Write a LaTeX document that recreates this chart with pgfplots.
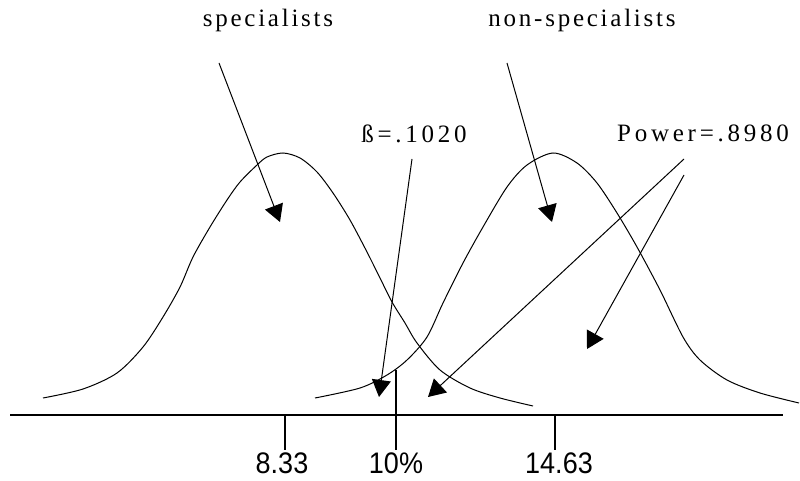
\documentclass[border=0pt]{standalone}
\usepackage{pgfplots}
\pgfplotsset{compat=1.18}
\usepackage{fontspec}
\setmainfont{Liberation Serif}
\newfontfamily\spacedA[LetterSpace=11]{Liberation Serif}
\newfontfamily\spacedB[LetterSpace=15]{Liberation Serif}
\newfontfamily\sansf{Liberation Sans}
\usetikzlibrary{arrows.meta}
\begin{document}
\begin{tikzpicture}
\begin{axis}[
  width=800pt, height=480pt, scale only axis,
  xmin=0, xmax=800, ymin=0, ymax=480,
  axis lines=none, clip=false,
]
% left curve (specialists)
\addplot[black, line width=1pt, smooth, tension=0.5] coordinates {
 (43,82) (83,91) (117,107) (143,133) (163,163) (180,193) (193,223) (210,253)
 (227,280) (240,298) (257,315) (267,323) (283,327) (300,322) (317,308)
 (333,287) (350,260) (367,228) (380,202) (392,178) (405,157) (417,137)
 (440,110) (470,92) (500,82) (533,74)
};
% right curve (non-specialists)
\addplot[black, line width=1pt, smooth, tension=0.5] coordinates {
 (315,82) (360,92) (387,105) (407,120) (427,143) (443,177) (463,217)
 (483,253) (507,293) (527,315) (553,327) (577,317) (597,297) (617,267)
 (637,233) (660,190) (683,143) (700,120) (727,100) (760,87) (799,77)
};
% axis line and ticks
\addplot[black, line width=1.6pt] coordinates {(10,65) (783,65)};
\addplot[black, line width=1.2pt] coordinates {(285,65) (285,30)};
\addplot[black, line width=1.2pt] coordinates {(555,65) (555,30)};
\addplot[black, line width=1.2pt] coordinates {(396,110) (396,30)};
% arrows
\addplot[black, line width=1pt, -{Triangle[length=17pt,width=19pt]}] coordinates {(219,417) (280,258)};
\addplot[black, line width=1pt, -{Triangle[length=17pt,width=19pt]}] coordinates {(507,417) (552,258)};
\addplot[black, line width=1pt, -{Triangle[length=17pt,width=19pt]}] coordinates {(412,321) (379,83)};
\addplot[black, line width=1pt, -{Triangle[length=17pt,width=19pt]}] coordinates {(684,321) (428,83)};
\addplot[black, line width=1pt, -{Triangle[length=17pt,width=19pt]}] coordinates {(684,305) (587,131)};
% labels
\node[anchor=base, inner sep=0pt, font=\spacedA\fontsize{25}{28}\selectfont] at (axis cs:268,453) {specialists};
\node[anchor=base, inner sep=0pt, font=\spacedA\fontsize{25}{28}\selectfont] at (axis cs:582,453) {non-specialists};
\node[anchor=base, inner sep=0pt, font=\spacedB\fontsize{25}{28}\selectfont] at (axis cs:414,337) {ß=.1020};
\node[anchor=base, inner sep=0pt, font=\spacedB\fontsize{25}{28}\selectfont] at (axis cs:703,338) {Power=.8980};
\node[anchor=base, inner sep=0pt, yscale=1.1, font=\sansf\fontsize{27}{30}\selectfont] at (axis cs:282,7) {8.33};
\node[anchor=base, inner sep=0pt, yscale=1.1, font=\sansf\fontsize{27}{30}\selectfont] at (axis cs:396,7) {10\%};
\node[anchor=base, inner sep=0pt, yscale=1.1, font=\sansf\fontsize{27}{30}\selectfont] at (axis cs:559,7) {14.63};
\end{axis}
\pgfresetboundingbox
\path (0,0) rectangle (800pt,480pt);
\end{tikzpicture}
\end{document}
